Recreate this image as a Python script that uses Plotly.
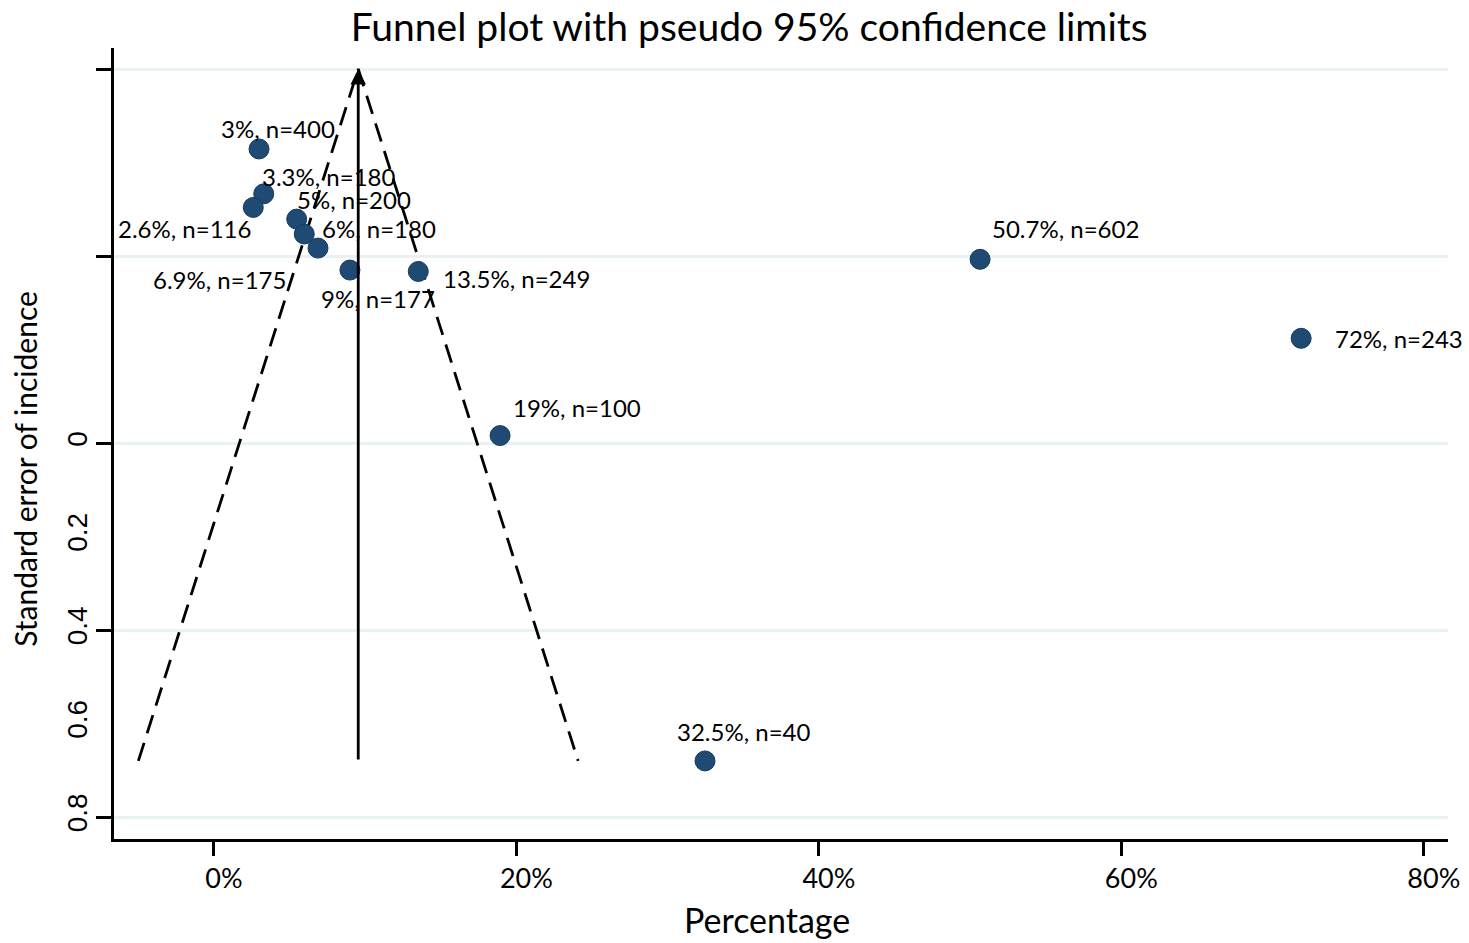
import plotly.graph_objects as go

# ---- data ----
labels = ["3%, n=400", "3.3%, n=180", "2.6%, n=116", "5%, n=200", "6%, n=180",
          "6.9%, n=175", "9%, n=177", "13.5%, n=249", "19%, n=100", "32.5%, n=40",
          "50.7%, n=602", "72%, n=243"]
pct = [2.98, 3.29, 2.60, 5.47, 5.97, 6.88, 8.99, 13.51, 18.92, 32.47, 50.66, 71.89]
se = [-0.629, -0.533, -0.504, -0.479, -0.447, -0.417, -0.370, -0.367, -0.016, 0.680, -0.393, -0.224]

# label placement (pixel offsets from the marker, anchor)
lab_dx = [-40, -4, 0, -2, 16, -30, -31, 23, 11, -30, 10, 32]
lab_dy = [-20, -17, 21, -20, -6, 31, 28, 7, -28, -29, -31, 0]
lab_anchor = ["left", "left", "right", "left", "left", "right", "left", "left", "left", "left", "left", "left"]

# funnel (pooled estimate and limits)
pooled = 9.54
funnel_half = 14.54
se_top = -0.8
se_bottom = 0.68

x_ticks = [0, 20, 40, 60, 80]
x_ticktext = ["0%", "20%", "40%", "60%", "80%"]
grid_vals = [-0.8, -0.4, 0, 0.4, 0.8]
y_labvals = [0, 0.2, 0.4, 0.6, 0.8]
y_labtext = ["0", "0.2", "0.4", "0.6", "0.8"]

FONT = "Lato"
fig = go.Figure()

# dashed confidence limits
fig.add_trace(go.Scatter(
    x=[pooled - funnel_half, pooled, pooled + funnel_half],
    y=[se_bottom, se_top, se_bottom],
    mode="lines", line=dict(color="black", width=2.8, dash="19px,10px"),
    hoverinfo="skip", showlegend=False))

# points
fig.add_trace(go.Scatter(
    x=pct, y=se, mode="markers",
    marker=dict(size=20, color="#1f4a74", line=dict(color="#163b5e", width=1)),
    showlegend=False, hovertext=labels, hoverinfo="text"))

# invisible trace on second y axis to activate it
fig.add_trace(go.Scatter(x=[pooled], y=[0], yaxis="y2", mode="markers",
                         marker=dict(opacity=0), showlegend=False, hoverinfo="skip"))

# pooled line with arrow
fig.add_annotation(x=pooled, y=se_top, ax=pooled, ay=se_bottom,
                   xref="x", yref="y", axref="x", ayref="y",
                   text="", showarrow=True, arrowhead=2, arrowsize=1.1,
                   arrowwidth=2.8, arrowcolor="black")

for t, xv, yv, dx, dy, anc in zip(labels, pct, se, lab_dx, lab_dy, lab_anchor):
    fig.add_annotation(x=xv, y=yv, xref="x", yref="y", text=t, showarrow=False,
                       xanchor=anc, yanchor="middle", xshift=dx, yshift=-dy,
                       font=dict(family=FONT, size=24, color="black"))

# axis titles
fig.add_annotation(text="Standard error of incidence", xref="paper", yref="paper",
                   x=-0.0667, y=0.468, textangle=-90, showarrow=False,
                   xanchor="center", yanchor="middle",
                   font=dict(family=FONT, size=30, color="black"))
fig.add_annotation(text="Percentage", xref="paper", yref="paper",
                   x=0.4895, y=-0.1024, showarrow=False,
                   xanchor="center", yanchor="middle",
                   font=dict(family=FONT, size=34, color="black"))

yrange = [0.847, -0.845]
fig.update_layout(
    width=1469, height=943,
    margin=dict(l=114, r=21, t=48, b=104, autoexpand=False),
    paper_bgcolor="white", plot_bgcolor="white",
    title=dict(text="Funnel plot with pseudo 95% confidence limits",
               x=0.510, xref="container", xanchor="center",
               y=1 - 27 / 943, yref="container", yanchor="middle",
               font=dict(family=FONT, size=39, color="black")),
    xaxis=dict(range=[-6.61, 81.6], tickvals=x_ticks, ticktext=x_ticktext,
               showgrid=False, zeroline=False, showline=True, linecolor="black",
               linewidth=2.5, ticks="outside", ticklen=14, tickwidth=2.5,
               tickcolor="black", ticklabelshift=10, automargin=False,
               tickfont=dict(family=FONT, size=27, color="black")),
    yaxis=dict(range=yrange, tickvals=grid_vals, ticktext=[""] * 5,
               showgrid=True, gridcolor="#e8f1f3", gridwidth=3, automargin=False,
               zeroline=False, showline=True, linecolor="black", linewidth=2.5,
               ticks="outside", ticklen=15, tickwidth=2.5, tickcolor="black"),
    yaxis2=dict(range=yrange, overlaying="y", side="left", anchor="x",
                tickvals=y_labvals, ticktext=y_labtext, tickangle=-90,
                showgrid=False, zeroline=False, showline=False, automargin=False,
                ticks="outside", ticklen=15, tickcolor="rgba(0,0,0,0)",
                tickfont=dict(family="Liberation Sans", size=28, color="black")),
    showlegend=False,
)

fig.write_html("out.html")
